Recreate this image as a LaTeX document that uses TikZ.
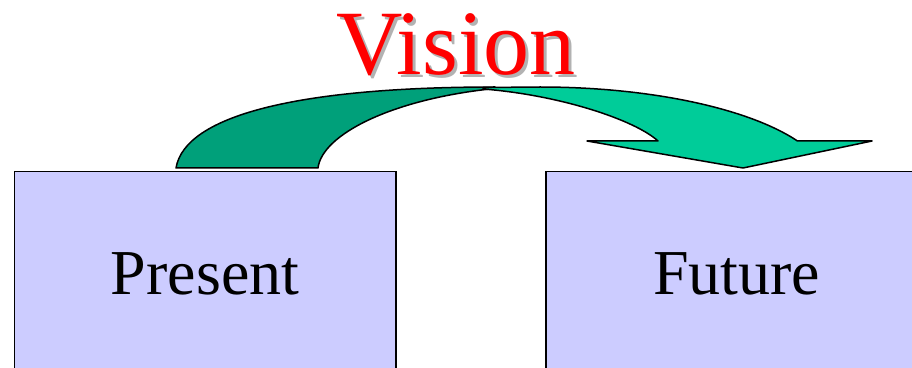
\documentclass[tikz,border=0pt]{standalone}
\usepackage{fontspec}
\setmainfont{Liberation Serif}
\usepackage{tikz}

\definecolor{boxblue}{HTML}{CCCCFF}
\definecolor{backteal}{HTML}{00A07A}
\definecolor{frontteal}{HTML}{00CC99}
\definecolor{shadowgray}{HTML}{B2B2B2}

\begin{document}
\begin{tikzpicture}[x=1pt,y=1pt,
  stage/.style={draw=black,line width=1.8pt,fill=boxblue,anchor=north west,
    minimum width=381.5pt,minimum height=205pt,inner sep=0pt,
    font=\fontsize{64}{70}\selectfont},
  title/.style={anchor=base,font=\fontsize{92}{100}\selectfont},
  band/.style={draw=black,line width=1.5pt,line join=round}]
\useasboundingbox (0,0) rectangle (912,367);
% the two stages
\node[stage] (present) at (13.5,196.3) {Present};
\node[stage] (future) at (545,196.3) {Future};
% title and its shadow
\node[title,text=shadowgray] (visionshadow) at (459,289) {Vision};
\node[title,text=red] (vision) at (456,292) {Vision};
% curved arrow: back part, then front part with the head
\filldraw[band,fill=backteal] (176,199) .. controls (185,252) and (300,280) .. (495,280)
  -- (490,278) .. controls (390,267) and (322,232) .. (318,199) -- cycle;
\filldraw[band,fill=frontteal] (483,279.5) -- (540,280)
  arc[start angle=90,end angle=27.4,x radius=290,y radius=100]
  -- (872,226) -- (743,199) -- (587,226) -- (658,226)
  .. controls (635,247) and (560,272) .. (483,278) -- cycle;
\end{tikzpicture}
\end{document}
